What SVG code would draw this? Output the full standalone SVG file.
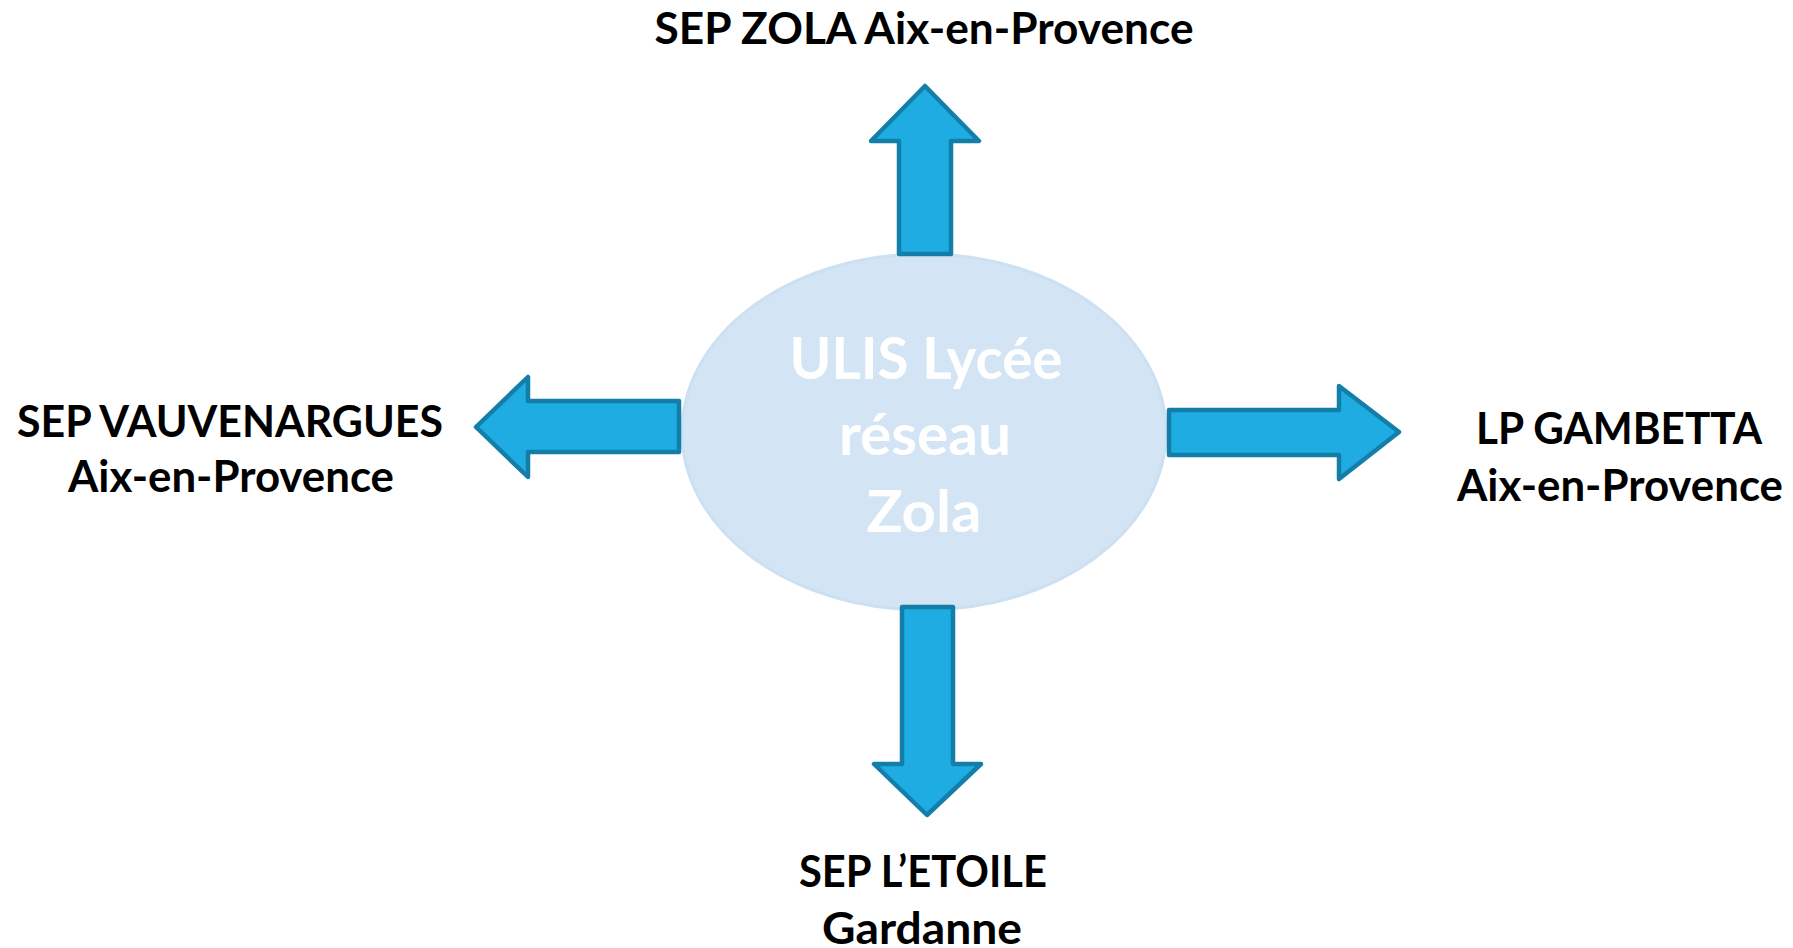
<svg xmlns="http://www.w3.org/2000/svg" width="1793" height="948" viewBox="0 0 1793 948">
<style>
.arrow{fill:#1eace2;stroke:#137fa9;stroke-width:4.5;stroke-linejoin:round}
.lbl{font-family:"Lato","Liberation Sans",sans-serif;font-weight:bold;font-size:43px;fill:#000;text-anchor:middle}
.ctr{font-family:"Lato","Liberation Sans",sans-serif;font-weight:bold;font-size:58px;fill:#ffffff;text-anchor:middle}
</style>
<rect width="1793" height="948" fill="#ffffff"/>
<g id="center">
<ellipse cx="924" cy="432" rx="242" ry="178" fill="#d3e5f5" stroke="#cce0f2" stroke-width="3"/>
<text class="ctr" x="926" y="379" textLength="273" lengthAdjust="spacingAndGlyphs">ULIS Lycée</text>
<text class="ctr" x="925" y="455" textLength="172" lengthAdjust="spacingAndGlyphs">réseau</text>
<text class="ctr" x="924" y="532" textLength="115" lengthAdjust="spacingAndGlyphs">Zola</text>
</g>
<g id="connectors">
<path class="arrow" d="M925,86 L979,141 L951,141 L951,254 L899,254 L899,141 L871,141 Z"/>
<path class="arrow" d="M476,427 L528,377 L528,401 L679,401 L679,452 L528,452 L528,477 Z"/>
<path class="arrow" d="M1169,410 L1339,410 L1339,386 L1399,432 L1339,479 L1339,455 L1169,455 Z"/>
<path class="arrow" d="M902,607 L953,607 L953,764 L981,764 L927,815 L874,764 L902,764 Z"/>
</g>
<g id="top">
<text class="lbl" x="924" y="44" textLength="539" lengthAdjust="spacingAndGlyphs">SEP ZOLA Aix-en-Provence</text>
</g>
<g id="left">
<text class="lbl" x="230" y="437" textLength="426" lengthAdjust="spacingAndGlyphs">SEP VAUVENARGUES</text>
<text class="lbl" x="231" y="492" textLength="326" lengthAdjust="spacingAndGlyphs">Aix-en-Provence</text>
</g>
<g id="right">
<text class="lbl" x="1619" y="444" textLength="286" lengthAdjust="spacingAndGlyphs">LP GAMBETTA</text>
<text class="lbl" x="1620" y="501" textLength="326" lengthAdjust="spacingAndGlyphs">Aix-en-Provence</text>
</g>
<g id="bottom">
<text class="lbl" x="923" y="887" textLength="248" lengthAdjust="spacingAndGlyphs">SEP L’ETOILE</text>
<text class="lbl" x="922" y="944" textLength="200" lengthAdjust="spacingAndGlyphs">Gardanne</text>
</g>
</svg>
